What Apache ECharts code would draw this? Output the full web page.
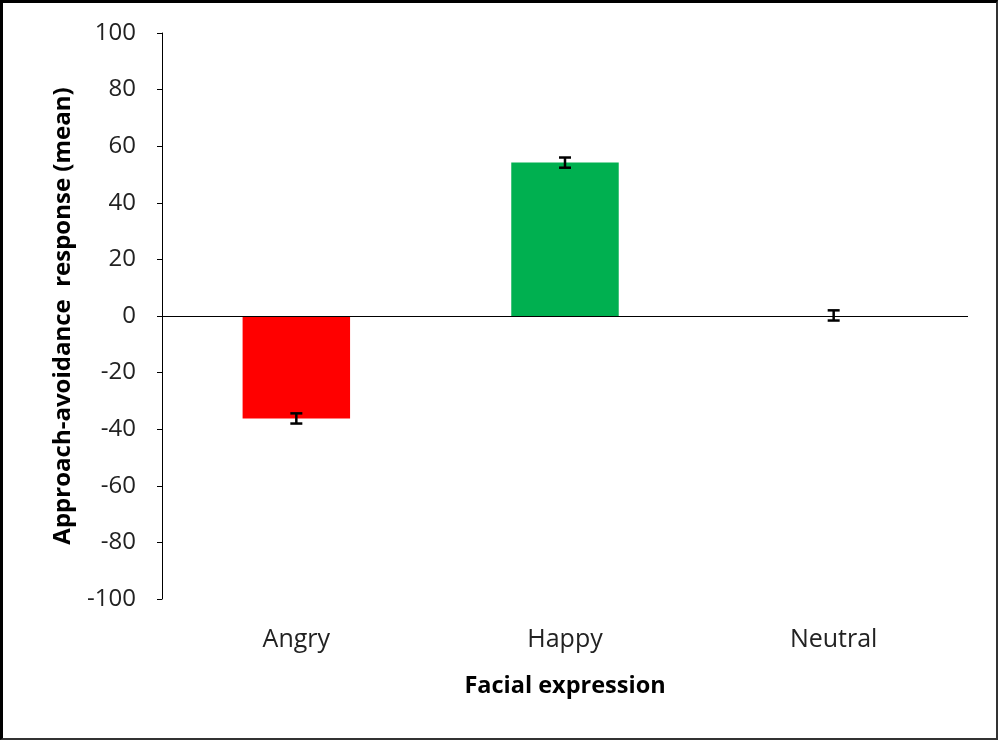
<!DOCTYPE html>
<html>
<head>
    <meta charset="utf-8">
    <title>Facial expression</title>
    <script src="https://cdn.jsdelivr.net/npm/echarts@6/dist/echarts.min.js"></script>
    <style>
        html, body { margin: 0; padding: 0; background: #ffffff; }
        #main {
            width: 998px; height: 740px;
            box-sizing: border-box;
            border-left: 3px solid #000; border-top: 3px solid #000;
            border-right: 2px solid #333; border-bottom: 2px solid #333;
        }
    </style>
</head>
<body>
<div id="main"></div>
<script>
    // data
    var categories = ['Angry', 'Happy', 'Neutral'];
    var means = [-36.2, 54.2, 0.2];
    var errors = [1.8, 1.8, 1.8];
    var barColors = ['#FF0000', '#00B050', '#FFFFFF'];

    var chart = echarts.init(document.getElementById('main'));
    var font = '"Open Sans", "Liberation Sans", sans-serif';

    var errData = categories.map(function (c, i) {
        return [i, means[i] - errors[i], means[i] + errors[i]];
    });

    chart.setOption({
        animation: false,
        grid: { left: 159, right: 28, top: 30, bottom: 139 },
        xAxis: {
            type: 'category',
            data: categories,
            axisLine: { show: false },
            axisTick: { show: false },
            axisLabel: { color: '#222', fontSize: 25, fontFamily: font, margin: 28 },
            name: 'Facial expression',
            nameLocation: 'middle',
            nameGap: 75,
            nameTextStyle: { color: '#000', fontSize: 23.5, fontWeight: 'bold', fontFamily: font }
        },
        yAxis: {
            type: 'value',
            min: -100, max: 100, interval: 20,
            axisLine: { show: true, lineStyle: { color: '#000', width: 1 } },
            axisTick: { show: true, length: 5, lineStyle: { color: '#000' } },
            splitLine: { show: false },
            axisLabel: { color: '#222', fontSize: 24, fontFamily: font, margin: 26 },
            name: 'Approach-avoidance  response (mean)',
            nameLocation: 'middle',
            nameGap: 87,
            nameTextStyle: { color: '#000', fontSize: 24, fontWeight: 'bold', fontFamily: font }
        },
        series: [{
            type: 'bar',
            barWidth: '40%',
            data: means.map(function (v, i) {
                return { value: v, itemStyle: { color: barColors[i] } };
            }),
            markLine: {
                silent: true,
                symbol: 'none',
                label: { show: false },
                lineStyle: { color: '#000', width: 1, type: 'solid' },
                data: [{ yAxis: 0 }]
            }
        }, {
            type: 'custom',
            data: errData,
            z: 10,
            renderItem: function (params, api) {
                var x = api.value(0);
                var lo = api.coord([x, api.value(1)]);
                var hi = api.coord([x, api.value(2)]);
                var w = 6;
                var st = { stroke: '#000', lineWidth: 2.5 };
                return {
                    type: 'group',
                    children: [
                        { type: 'line', shape: { x1: hi[0], y1: hi[1], x2: lo[0], y2: lo[1] }, style: st },
                        { type: 'line', shape: { x1: hi[0] - w, y1: hi[1], x2: hi[0] + w, y2: hi[1] }, style: st },
                        { type: 'line', shape: { x1: lo[0] - w, y1: lo[1], x2: lo[0] + w, y2: lo[1] }, style: st }
                    ]
                };
            }
        }]
    });
</script>
</body>
</html>
